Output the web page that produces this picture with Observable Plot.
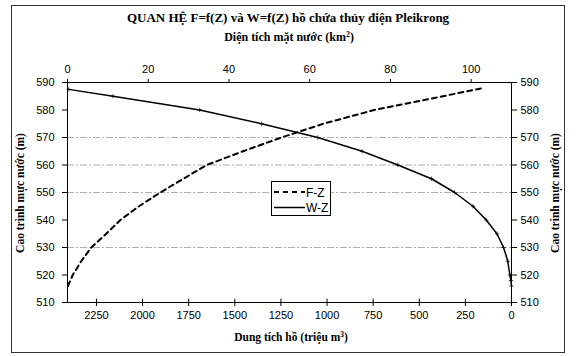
<!DOCTYPE html>
<html>
<head>
<meta charset="utf-8">
<script src="https://cdn.jsdelivr.net/npm/d3@7"></script>
<script src="https://cdn.jsdelivr.net/npm/@observablehq/plot@0.6"></script>
<style>
  html, body { margin:0; padding:0; background:#fff; }
  #wrap { position:relative; width:576px; height:356px; background:#fff; overflow:hidden; }
  .t { position:absolute; transform:translate(-50%,-50%); white-space:nowrap; line-height:1;
       font-family:"Liberation Serif","Times New Roman",serif; font-weight:bold; color:#000; }
  .layer { position:absolute; left:0; top:0; }
  sup { font-size:65%; line-height:0; vertical-align:0.55em; }
</style>
</head>
<body>
<div id="wrap">
  <div style="position:absolute;left:11px;top:5px;width:552px;height:346px;border:1px solid #333;"></div>
  <div class="t" style="left:288px;top:17px;font-size:13px;">QUAN HỆ F=f(Z) và W=f(Z) hồ chứa thủy điện Pleikrong</div>
  <div class="t" style="left:289px;top:37px;font-size:12px;">Diện tích mặt nước (km<sup>2</sup>)</div>
  <div class="t" style="left:291px;top:338px;font-size:11.5px;">Dung tích hồ (triệu m<sup>3</sup>)</div>
  <div class="t" style="left:21px;top:193px;font-size:11.5px;transform:translate(-50%,-50%) rotate(-90deg);">Cao trình mực nước (m)</div>
  <div class="t" style="left:556px;top:193px;font-size:11.5px;transform:translate(-50%,-50%) rotate(-90deg);">Cao trình mực nước (m)</div>
  <div id="p1" class="layer"></div>
  <div id="p2" class="layer"></div>
  <div id="legend" class="layer"></div>
</div>
<script>
// ---- data ----
const zF = [516, 520, 525, 530, 535, 540, 545, 550, 555, 560, 565, 570, 575, 580, 585, 588];
const fVal = [0.1, 1.3, 3.4, 5.9, 9.6, 13.1, 17.7, 23, 28.7, 34.5, 43.5, 53, 63.4, 76, 93, 103];

const zW = [516, 518, 520, 525, 530, 535, 540, 545, 550, 555, 560, 565, 570, 575, 580, 585, 587.5];
const wVal = [0, 3, 9, 20, 43, 79, 137, 209, 308, 434, 616, 810, 1050, 1355, 1690, 2160, 2400];

const yTicks = [510, 520, 530, 540, 550, 560, 570, 580, 590];
const gridZ = [530, 550, 560, 570];
const wTicks = [2250, 2000, 1750, 1500, 1250, 1000, 750, 500, 250, 0];
const fTicks = [0, 20, 40, 60, 80, 100];

const fData = zF.map((z, i) => ({z, f: fVal[i]}));
const wData = zW.map((z, i) => ({z, w: wVal[i]}));

const fmt = d => String(d);
const common = {
  width: 576, height: 356,
  marginTop: 82, marginBottom: 54, marginLeft: 67, marginRight: 65,
  style: {fontFamily: "'Liberation Sans', Arial, sans-serif", fontSize: "11px", background: "transparent", color: "#000"}
};

const p1 = Plot.plot({
  ...common,
  x: {domain: [2407, 0]},
  y: {domain: [510, 590]},
  marks: [
    Plot.ruleY(gridZ, {y: d => d, stroke: "#b0b0b0", strokeDasharray: "7,2,2,2", strokeWidth: 1}),
    Plot.frame({stroke: "#000", strokeWidth: 1}),
    Plot.axisY({anchor: "left", ticks: yTicks, tickFormat: fmt, tickSize: 5, tickPadding: 8, label: null, fontSize: 11}),
    Plot.axisY({anchor: "right", ticks: yTicks, tickFormat: fmt, tickSize: 5, tickPadding: 4, label: null, fontSize: 11}),
    Plot.axisX({anchor: "bottom", ticks: wTicks, tickFormat: fmt, tickSize: 4, tickPadding: 5, label: null, fontSize: 11}),
    Plot.ruleX(wTicks, {x: d => d, y1: 510, y2: 511.2, stroke: "#000"}),
    Plot.line(wData, {x: "w", y: "z", stroke: "#000", strokeWidth: 1.5}),
    Plot.dot(wData, {x: "w", y: "z", symbol: "plus", r: 1.5, stroke: "#000", strokeWidth: 0.7})
  ]
});
document.getElementById("p1").append(p1);

const p2 = Plot.plot({
  ...common,
  x: {domain: [0, 110]},
  y: {domain: [510, 590], axis: null},
  marks: [
    Plot.axisX({anchor: "top", ticks: fTicks, tickFormat: fmt, tickSize: 4, tickPadding: 6, label: null, fontSize: 11}),
    Plot.line(fData, {x: "f", y: "z", stroke: "#000", strokeWidth: 2, strokeDasharray: "5,4"})
  ]
});
document.getElementById("p2").append(p2);

// legend
const lg = d3.select("#legend").append("svg").attr("width", 576).attr("height", 356);
lg.append("rect").attr("x", 271.5).attr("y", 181.5).attr("width", 59).attr("height", 34)
  .attr("fill", "#fff").attr("stroke", "#000");
lg.append("line").attr("x1", 274).attr("x2", 305).attr("y1", 192).attr("y2", 192)
  .attr("stroke", "#000").attr("stroke-width", 2).attr("stroke-dasharray", "5,4");
lg.append("line").attr("x1", 274).attr("x2", 305).attr("y1", 207.5).attr("y2", 207.5)
  .attr("stroke", "#000").attr("stroke-width", 1.5);
lg.append("text").attr("x", 306).attr("y", 196.5).text("F-Z")
  .attr("font-family", "'Liberation Sans', Arial, sans-serif").attr("font-size", 12);
lg.append("text").attr("x", 306).attr("y", 212).text("W-Z")
  .attr("font-family", "'Liberation Sans', Arial, sans-serif").attr("font-size", 12);
</script>
</body>
</html>
